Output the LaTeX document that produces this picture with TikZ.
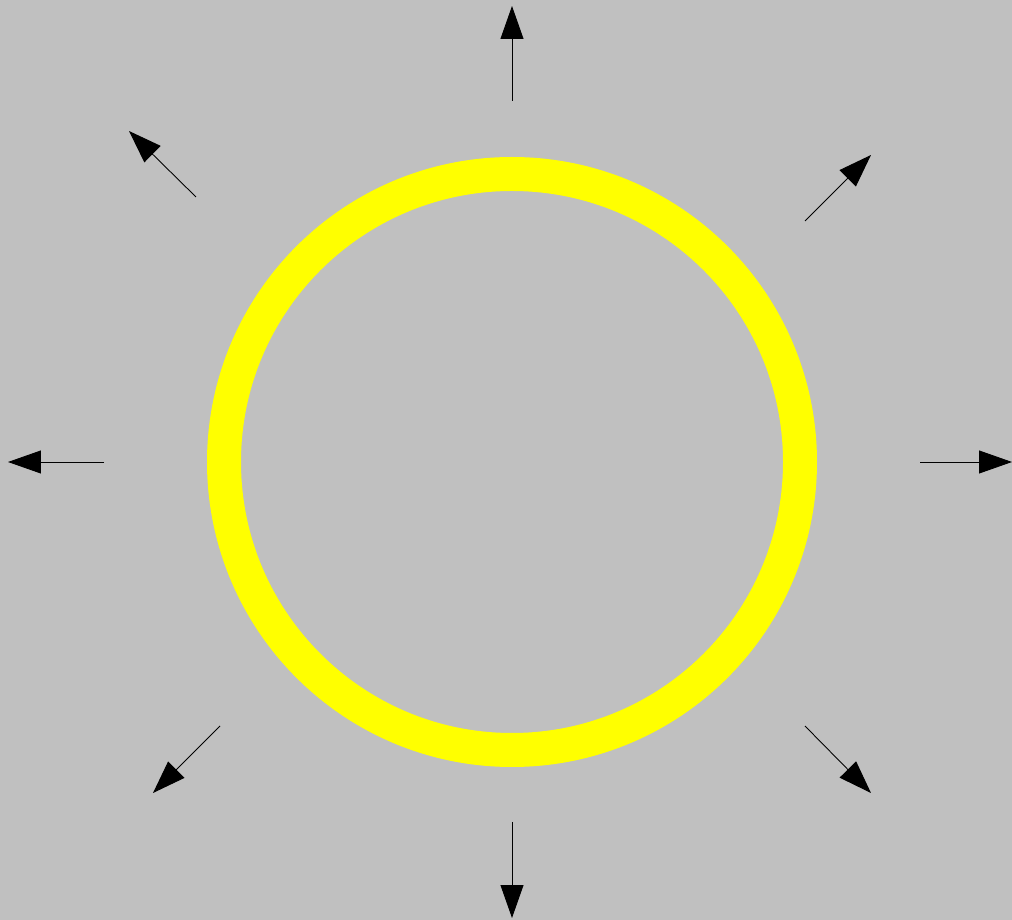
\documentclass[tikz,border=0pt]{standalone}
\usepackage{xcolor}
\usetikzlibrary{arrows.meta}

\definecolor{bggray}{RGB}{192,192,192}
\definecolor{ringyellow}{RGB}{255,255,0}

\tikzset{
	ray/.style={-{Triangle[length=0.66cm, width=0.46cm]}, line width=0.5pt, black}
}

\begin{document}
\begin{tikzpicture}[x=0.02cm, y=0.02cm]
		\fill[bggray] (0,0) rectangle (1012,920);
		\useasboundingbox (0,0) rectangle (1012,920);
		\coordinate (c) at (512,458);
		\draw[ringyellow, line width=0.68cm] (c) circle (288);
		% rays
		\draw[ray] (512,819) -- (512,914);
		\draw[ray] (512,98) -- (512,2);
		\draw[ray] (920,458) -- (1012,458);
		\draw[ray] (104,458) -- (8,458);
		\draw[ray] (805,699) -- (871,765);
		\draw[ray] (196,723) -- (129,789);
		\draw[ray] (220,194) -- (153,127);
		\draw[ray] (805,194) -- (871,127);
	\end{tikzpicture}
\end{document}
